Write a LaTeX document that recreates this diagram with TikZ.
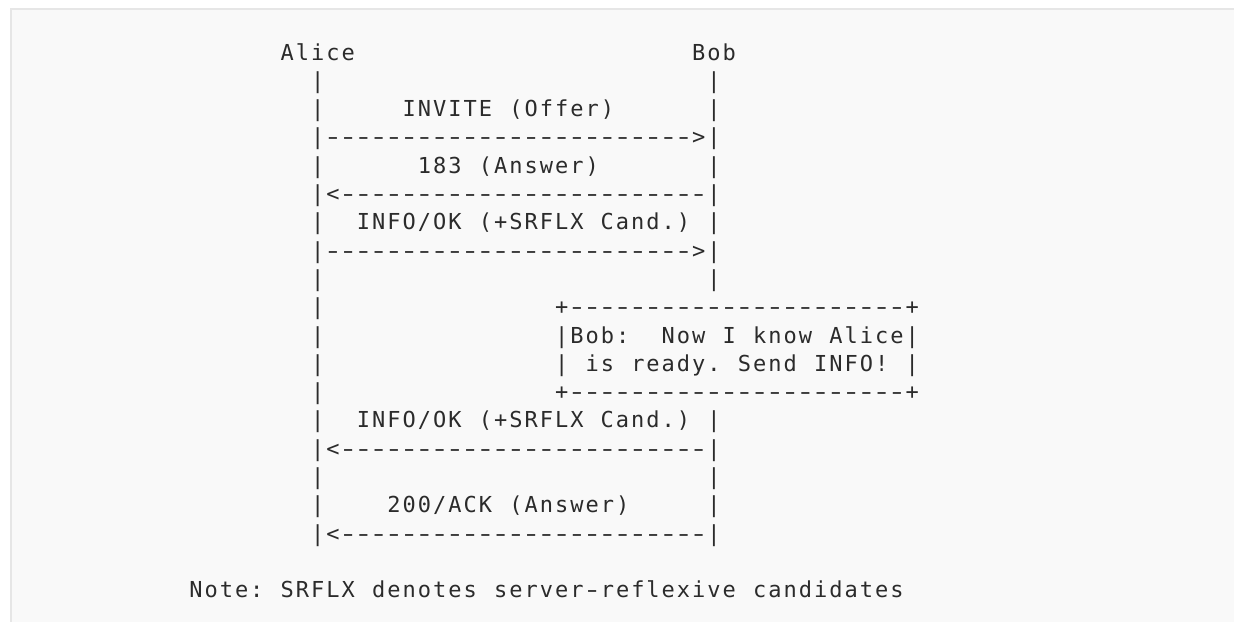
\documentclass[tikz,border=0pt]{standalone}
\usepackage{fontspec}
\usepackage{graphicx}
\newfontfamily\asciifont{DejaVu Sans Mono}
\definecolor{ink}{HTML}{2B2B2B}
\definecolor{panelbg}{HTML}{F9F9F9}
\definecolor{panelline}{HTML}{E6E6E6}
\newlength\asciicellw
\setlength\asciicellw{15.24pt}
\def\asciicwn{15.24}
\def\asciixo{188.3}
\def\asciiyo{60}
\def\asciilh{28.3}
\def\asciigrid#1{\asciiloop#1\relax}
\def\asciiloop#1{\ifx#1\relax\else\asciicell{#1}\expandafter\asciiloop\fi}
\def\asciicell#1{\ifx#1-\makebox[\asciicellw][c]{\scalebox{1.45}[1]{-}}\else\makebox[\asciicellw][c]{#1}\fi}
\newcommand\asciirow[4]{\node[asciitxt] (#1) at ({\asciixo+#2*\asciicwn},{\asciiyo+#3*\asciilh}) {\asciigrid{#4}};}
\tikzset{asciitxt/.style={anchor=base west,inner sep=0pt,outer sep=0pt,text=ink,font=\asciifont\fontsize{22}{22}\selectfont}}
\begin{document}
\begin{tikzpicture}[x=1pt,y=-1pt]
\useasboundingbox (0,0) rectangle (1234,622);
\fill[white] (0,0) rectangle (1234,622);
\fill[panelbg] (10,8) rectangle (1234,622);
\draw[panelline,line width=1.6pt] (10.8,622) -- (10.8,8.8) -- (1234,8.8);
% participants
\asciirow{alice}{6}{0}{Alice}
\asciirow{bob}{33}{0}{Bob}
% row 1
\asciirow{a1}{8}{1}{|}
\asciirow{b1}{34}{1}{|}
% row 2
\asciirow{a2}{8}{2}{|}
\asciirow{m1}{14}{2}{INVITE~(Offer)}
\asciirow{b2}{34}{2}{|}
% row 3
\asciirow{r3}{8}{3}{|------------------------>|}
% row 4
\asciirow{a4}{8}{4}{|}
\asciirow{m2}{15}{4}{183~(Answer)}
\asciirow{b4}{34}{4}{|}
% row 5
\asciirow{r5}{8}{5}{|<------------------------|}
% row 6
\asciirow{a6}{8}{6}{|}
\asciirow{m3}{11}{6}{INFO/OK~(+SRFLX~Cand.)}
\asciirow{b6}{34}{6}{|}
% row 7
\asciirow{r7}{8}{7}{|------------------------>|}
% row 8
\asciirow{a8}{8}{8}{|}
\asciirow{b8}{34}{8}{|}
% rows 9-12 with note box
\asciirow{a9}{8}{9}{|}
\asciirow{boxtop}{24}{9}{+----------------------+}
\asciirow{a10}{8}{10}{|}
\asciirow{boxl1}{24}{10}{|Bob:~~Now~I~know~Alice|}
\asciirow{a11}{8}{11}{|}
\asciirow{boxl2}{24}{11}{|~is~ready.~Send~INFO!~|}
\asciirow{a12}{8}{12}{|}
\asciirow{boxbot}{24}{12}{+----------------------+}
% row 13
\asciirow{a13}{8}{13}{|}
\asciirow{m4}{11}{13}{INFO/OK~(+SRFLX~Cand.)}
\asciirow{b13}{34}{13}{|}
% row 14
\asciirow{r14}{8}{14}{|<------------------------|}
% row 15
\asciirow{a15}{8}{15}{|}
\asciirow{b15}{34}{15}{|}
% row 16
\asciirow{a16}{8}{16}{|}
\asciirow{m5}{13}{16}{200/ACK~(Answer)}
\asciirow{b16}{34}{16}{|}
% row 17
\asciirow{r17}{8}{17}{|<------------------------|}
% note
\asciirow{note}{0}{19}{Note:~SRFLX~denotes~server-reflexive~candidates}
\end{tikzpicture}
\end{document}
